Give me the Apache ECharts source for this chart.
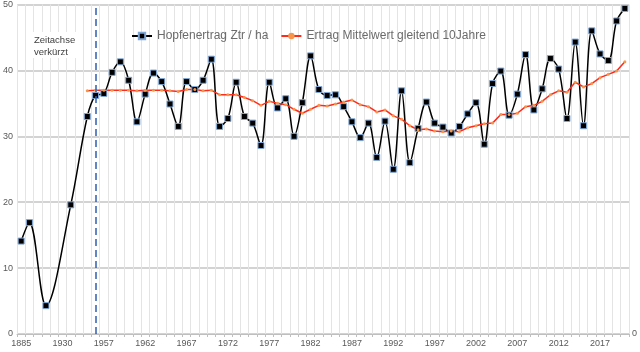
<!DOCTYPE html>
<html>
<head>
<meta charset="utf-8">
<script src="https://cdn.jsdelivr.net/npm/echarts@6/dist/echarts.min.js"></script>
<style>
    html, body { margin: 0; padding: 0; background: #fff; }
    #chart { width: 640px; height: 352px; }
</style>
</head>
<body>
<div id="chart"></div>
<script>
// Jahre (Achse verkürzt bis 1956, danach jährlich)
let years = [1885, 1890, 1900, 1910, 1920, 1930, 1940, 1950, 1955, 1956,
    1957, 1958, 1959, 1960, 1961, 1962, 1963, 1964, 1965, 1966,
    1967, 1968, 1969, 1970, 1971, 1972, 1973, 1974, 1975, 1976,
    1977, 1978, 1979, 1980, 1981, 1982, 1983, 1984, 1985, 1986,
    1987, 1988, 1989, 1990, 1991, 1992, 1993, 1994, 1995, 1996,
    1997, 1998, 1999, 2000, 2001, 2002, 2003, 2004, 2005, 2006,
    2007, 2008, 2009, 2010, 2011, 2012, 2013, 2014, 2015, 2016,
    2017, 2018, 2019, 2020];

// Hopfenertrag Ztr / ha
let ertrag = [14.1, 16.9, null, 4.3, null, null, 19.6, null, 33.0, 36.2,
    36.5, 39.7, 41.3, 38.5, 32.2, 36.4, 39.6, 38.3, 34.9, 31.5,
    38.3, 37.1, 38.5, 41.7, 31.5, 32.7, 38.2, 33.0, 32.0, 28.6,
    38.2, 34.3, 35.7, 30.0, 35.1, 42.2, 37.1, 36.2, 36.3, 34.5,
    32.2, 29.8, 32.0, 26.8, 32.3, 25.0, 36.9, 26.0, 31.2, 35.2,
    32.0, 31.4, 30.5, 31.5, 33.4, 35.1, 28.8, 38.0, 39.9, 33.2,
    36.4, 42.4, 34.0, 37.2, 41.8, 40.2, 32.7, 44.3, 31.6, 46.0,
    42.5, 41.5, 47.5, 49.4];

// gleitender Mittelwert 10 Jahre
let mittel = [null, null, null, null, null, null, null, null, 36.9, 37.0,
    37.0, 37.0, 37.0, 37.0, 36.9, 37.0, 37.0, 37.0, 36.9, 36.8,
    37.1, 37.1, 36.9, 37.0, 36.3, 36.3, 36.3, 35.9, 35.4, 34.7,
    35.3, 35.0, 34.8, 34.1, 33.5, 34.1, 34.7, 34.6, 34.9, 35.2,
    35.5, 34.8, 34.5, 33.7, 34.0, 33.1, 32.6, 31.6, 31.0, 31.1,
    30.8, 30.7, 30.8, 30.7, 31.3, 31.6, 31.9, 32.0, 33.3, 33.3,
    33.5, 34.5, 34.7, 35.3, 36.3, 36.9, 36.7, 38.2, 37.5, 38.0,
    38.9, 39.4, 39.9, 41.3];

let yTicks = [0, 10, 20, 30, 40, 50];

let font = "'Liberation Sans', Arial, sans-serif";

let options = {
    animation: false,
    textStyle: { fontFamily: font },
    grid: {
        left: 16,
        right: 8,
        top: 4,
        bottom: 18,
    },
    legend: {
        top: 25,
        left: 126,
        itemWidth: 20,
        itemHeight: 8,
        itemGap: 12,
        textStyle: { fontSize: 12, color: "#6b6b6b", fontFamily: font },
        data: ["Hopfenertrag Ztr / ha", "Ertrag Mittelwert gleitend 10Jahre"],
    },
    graphic: [
        {
            type: "rect",
            shape: { x: 30, y: 32, width: 48, height: 26 },
            style: { fill: "#fff" },
            z: 10,
        },
        {
            type: "text",
            left: 34,
            top: 34,
            z: 11,
            style: {
                text: "Zeitachse\nverkürzt",
                fontSize: 9.5,
                lineHeight: 12,
                fill: "#404040",
                fontFamily: font,
            },
        },
    ],
    xAxis: {
        type: "category",
        data: years,
        boundaryGap: true,
        axisLine: { show: true, lineStyle: { color: "#bfbfbf", width: 1 } },
        axisTick: { show: true, interval: 0, length: 3, lineStyle: { color: "#bfbfbf" } },
        axisLabel: {
            interval: 4,
            color: "#595959",
            fontSize: 9,
            margin: 5,
        },
        splitLine: {
            show: true,
            interval: 0,
            lineStyle: { color: "#e4e4e4", width: 1 },
        },
    },
    yAxis: [
        {
            type: "value",
            min: yTicks[0],
            max: yTicks[yTicks.length - 1],
            interval: 10,
            axisLine: { show: false },
            axisTick: { show: false },
            axisLabel: { color: "#595959", fontSize: 9, margin: 4 },
            splitLine: { lineStyle: { color: "#c4c4c4", width: 1.5 } },
        },
        {
            type: "value",
            position: "right",
            min: yTicks[0],
            max: yTicks[yTicks.length - 1],
            interval: 10,
            axisLine: { show: false },
            axisTick: { show: false },
            axisLabel: {
                color: "#595959",
                fontSize: 9,
                margin: 3,
                formatter: v => (v === 0 ? "0" : ""),
            },
            splitLine: { show: false },
        },
    ],
    series: [
        {
            name: "Hopfenertrag Ztr / ha",
            type: "line",
            data: ertrag,
            connectNulls: true,
            smooth: 0.35,
            showAllSymbol: true,
            symbol: "rect",
            symbolSize: 6,
            lineStyle: { color: "#000", width: 1.5 },
            itemStyle: { color: "#000", borderColor: "#7fa7d6", borderWidth: 1 },
            markLine: {
                silent: true,
                symbol: "none",
                label: { show: false },
                lineStyle: { color: "#2f5fb3", type: [7, 4], width: 1.5 },
                data: [{ xAxis: "1956" }],
            },
        },
        {
            name: "Ertrag Mittelwert gleitend 10Jahre",
            type: "line",
            data: mittel,
            showAllSymbol: true,
            symbol: "circle",
            symbolSize: 3,
            lineStyle: { color: "#ff2a1a", width: 1.5 },
            itemStyle: { color: "#f7964a", borderWidth: 0 },
        },
    ],
};

let chart = echarts.init(document.querySelector("#chart"));
chart.setOption(options);
window.addEventListener("resize", () => chart.resize());
</script>
</body>
</html>
